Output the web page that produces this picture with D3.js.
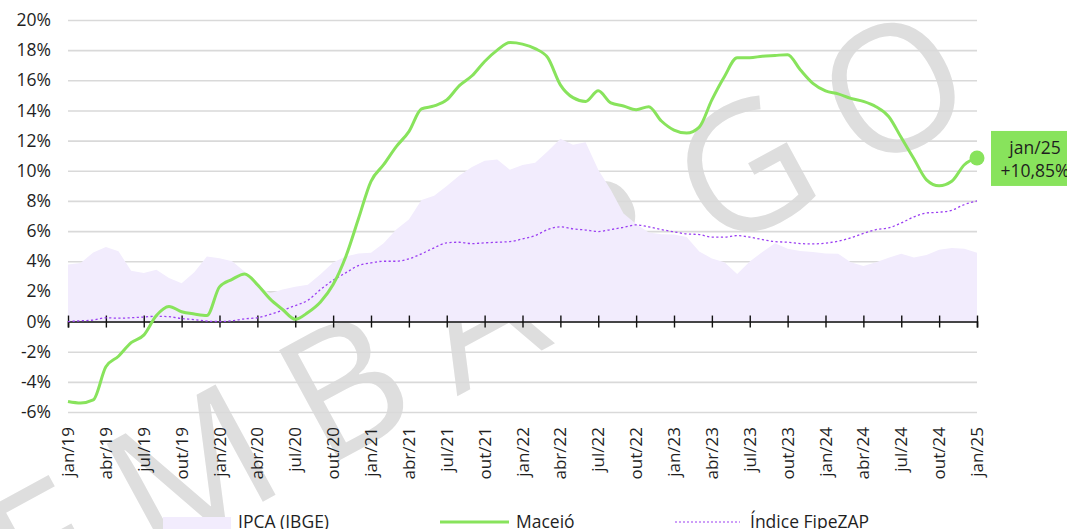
<!DOCTYPE html>
<html lang="pt-BR">
<head>
<meta charset="utf-8">
<script src="https://cdn.jsdelivr.net/npm/d3@7"></script>
<style>
  html, body { margin: 0; padding: 0; background: #fff; overflow: hidden; }
  svg { display: block; font-family: "Open Sans", "Noto Sans", sans-serif; }
</style>
</head>
<body>
<svg id="chart" width="1067" height="529"></svg>
<script>
// Monthly categories, jan/19 .. jan/25
const monthNames = ["jan","fev","mar","abr","mai","jun","jul","ago","set","out","nov","dez"];
const months = [];
for (let y = 19; y <= 25; y++) {
  for (let m = 0; m < 12; m++) {
    if (y === 25 && m > 0) break;
    months.push(monthNames[m] + "/" + y);
  }
}

// IPCA (IBGE), 12-month accumulated inflation (%)
const ipca = [
  3.78, 3.89, 4.58, 4.94, 4.66, 3.37, 3.22, 3.43, 2.89, 2.54, 3.27, 4.31,
  4.19, 4.00, 3.30, 2.40, 1.88, 2.13, 2.31, 2.44, 3.14, 3.92, 4.31, 4.52,
  4.56, 5.20, 6.10, 6.76, 8.06, 8.35, 8.99, 9.68, 10.25, 10.67, 10.74, 10.06,
  10.38, 10.54, 11.30, 12.13, 11.73, 11.89, 10.07, 8.73, 7.17, 6.47, 5.90, 5.79,
  5.77, 5.60, 4.65, 4.18, 3.94, 3.16, 3.99, 4.61, 5.19, 4.82, 4.68, 4.62,
  4.51, 4.50, 3.93, 3.69, 3.93, 4.23, 4.50, 4.24, 4.42, 4.76, 4.87, 4.83,
  4.56
];

// Maceió, 12-month variation of residential sale price (%)
const maceio = [
  -5.3, -5.4, -5.2, -3.0, -2.3, -1.4, -0.9, 0.4, 1.0, 0.65, 0.5, 0.4,
  2.3, 2.8, 3.15, 2.45, 1.5, 0.8, 0.15, 0.6, 1.3, 2.45, 4.3, 6.8,
  9.3, 10.4, 11.6, 12.6, 14.1, 14.3, 14.7, 15.65, 16.3, 17.25, 18.0, 18.5,
  18.4, 18.1, 17.5, 15.7, 14.85, 14.6, 15.3, 14.5, 14.3, 14.05, 14.25, 13.3,
  12.7, 12.5, 12.9, 14.7, 16.25, 17.5, 17.5, 17.6, 17.65, 17.7, 16.7, 15.8,
  15.3, 15.1, 14.8, 14.6, 14.25, 13.6, 12.2, 10.8, 9.4, 9.0, 9.3, 10.4,
  10.85
];

// Índice FipeZAP, 12-month variation (%)
const fipezap = [
  0.0, 0.05, 0.1, 0.25, 0.22, 0.25, 0.3, 0.35, 0.32, 0.2, 0.13, 0.03,
  0.0, 0.05, 0.18, 0.25, 0.47, 0.75, 1.06, 1.41, 2.12, 2.74, 3.23, 3.71,
  3.89, 4.0, 4.0, 4.16, 4.49, 4.89, 5.22, 5.26, 5.17, 5.22, 5.26, 5.3,
  5.48, 5.7, 6.1, 6.28, 6.15, 6.07, 5.97, 6.1, 6.25, 6.41, 6.28, 6.1,
  5.95, 5.81, 5.77, 5.6, 5.6, 5.7, 5.6, 5.44, 5.3, 5.26, 5.17, 5.15,
  5.2, 5.33, 5.55, 5.84, 6.1, 6.21, 6.54, 6.94, 7.2, 7.25, 7.38, 7.76,
  8.0
];

const yTicks = [-6, -4, -2, 0, 2, 4, 6, 8, 10, 12, 14, 16, 18, 20];
const legendLabels = ["IPCA (IBGE)", "Maceió", "Índice FipeZAP"];
const lastLabel = "jan/25";

const colors = {
  ipca: "#f2ecfd",
  maceio: "#88e35c",
  fipe: "#9b3ff2",
  grid: "#d9d9d9",
  text: "#1f1f1f",
  watermark: "#dedede"
};

const svg = d3.select("#chart");
const x = d3.scaleLinear().domain([0, months.length - 1]).range([68, 977]);
const y = d3.scaleLinear().domain([-6, 20]).range([412, 20]);
const fmtPct = d => d + "%";
const fmtBR = v => (v >= 0 ? "+" : "") + v.toFixed(2).replace(".", ",") + "%";

// Watermark
svg.append("text")
  .attr("transform", "translate(492,300) rotate(-28.5)")
  .attr("text-anchor", "middle")
  .attr("dominant-baseline", "central")
  .attr("font-size", 176)
  .attr("font-weight", 400)
  .attr("letter-spacing", 38)
  .attr("fill", colors.watermark)
  .text("EMBARGO");

// Horizontal gridlines
const yAxis = d3.axisLeft(y).tickValues(yTicks).tickFormat(fmtPct)
  .tickSize(-(x.range()[1] - x.range()[0])).tickPadding(17);
const gy = svg.append("g").attr("transform", `translate(${x.range()[0]},0)`).call(yAxis);
gy.select(".domain").remove();
gy.selectAll(".tick line").attr("stroke", colors.grid).attr("stroke-width", 1.6);
gy.selectAll(".tick text")
  .attr("font-size", 17.5).attr("fill", colors.text)
  .attr("font-family", "'Open Sans', sans-serif");

// IPCA area
const area = d3.area()
  .x((d, i) => x(i))
  .y0(y(0))
  .y1(d => y(d));
svg.append("path").datum(ipca).attr("d", area).attr("fill", colors.ipca);

// Zero axis with quarterly ticks
const quarterIdx = d3.range(0, months.length, 3);
const xAxis = d3.axisBottom(x).tickValues(quarterIdx).tickSize(6).tickFormat("");
const gx = svg.append("g").attr("transform", `translate(0,${y(0)})`).call(xAxis);
gx.select(".domain").attr("stroke", "#111").attr("stroke-width", 1.6);
gx.selectAll(".tick line").attr("stroke", "#111").attr("stroke-width", 1.4).attr("y1", -6);

// X tick labels (rotated)
svg.append("g").selectAll("text").data(quarterIdx).join("text")
  .attr("transform", i => `translate(${x(i) + 6},427) rotate(-90)`)
  .attr("text-anchor", "end")
  .attr("font-size", 17)
  .attr("fill", colors.text)
  .text(i => months[i]);

// FipeZAP dotted line
const line = d3.line().x((d, i) => x(i)).y(d => y(d)).curve(d3.curveMonotoneX);
svg.append("path").datum(fipezap).attr("d", line)
  .attr("fill", "none").attr("stroke", colors.fipe)
  .attr("stroke-width", 1.3).attr("stroke-dasharray", "2.2,2.4");

// Maceió line
svg.append("path").datum(maceio).attr("d", line)
  .attr("fill", "none").attr("stroke", colors.maceio)
  .attr("stroke-width", 3).attr("stroke-linejoin", "round");

// Last value marker and callout
const lastI = maceio.length - 1;
svg.append("circle").attr("cx", x(lastI)).attr("cy", y(maceio[lastI]))
  .attr("r", 7.5).attr("fill", colors.maceio);
const cy = y(maceio[lastI]);
svg.append("rect").attr("x", x(lastI) + 14).attr("y", cy - 27)
  .attr("width", 92).attr("height", 55).attr("fill", colors.maceio);
svg.append("text").attr("x", x(lastI) + 58).attr("y", cy - 4)
  .attr("text-anchor", "middle").attr("font-size", 17.5).attr("fill", colors.text)
  .text(lastLabel);
svg.append("text").attr("x", x(lastI) + 58).attr("y", cy + 19.5)
  .attr("text-anchor", "middle").attr("font-size", 17.5).attr("fill", colors.text)
  .text(fmtBR(maceio[lastI]));

// Legend
const lg = svg.append("g").attr("font-size", 17.5).attr("fill", colors.text);
lg.append("rect").attr("x", 163).attr("y", 517).attr("width", 68).attr("height", 14).attr("fill", colors.ipca);
lg.append("text").attr("x", 238).attr("y", 528).text(legendLabels[0]);
lg.append("line").attr("x1", 440).attr("x2", 509).attr("y1", 522).attr("y2", 522)
  .attr("stroke", colors.maceio).attr("stroke-width", 3);
lg.append("text").attr("x", 516).attr("y", 528).text(legendLabels[1]);
lg.append("line").attr("x1", 675).attr("x2", 740).attr("y1", 522).attr("y2", 522)
  .attr("stroke", colors.fipe).attr("stroke-width", 1.2).attr("stroke-dasharray", "2,2");
lg.append("text").attr("x", 750).attr("y", 528).text(legendLabels[2]);
</script>
</body>
</html>
